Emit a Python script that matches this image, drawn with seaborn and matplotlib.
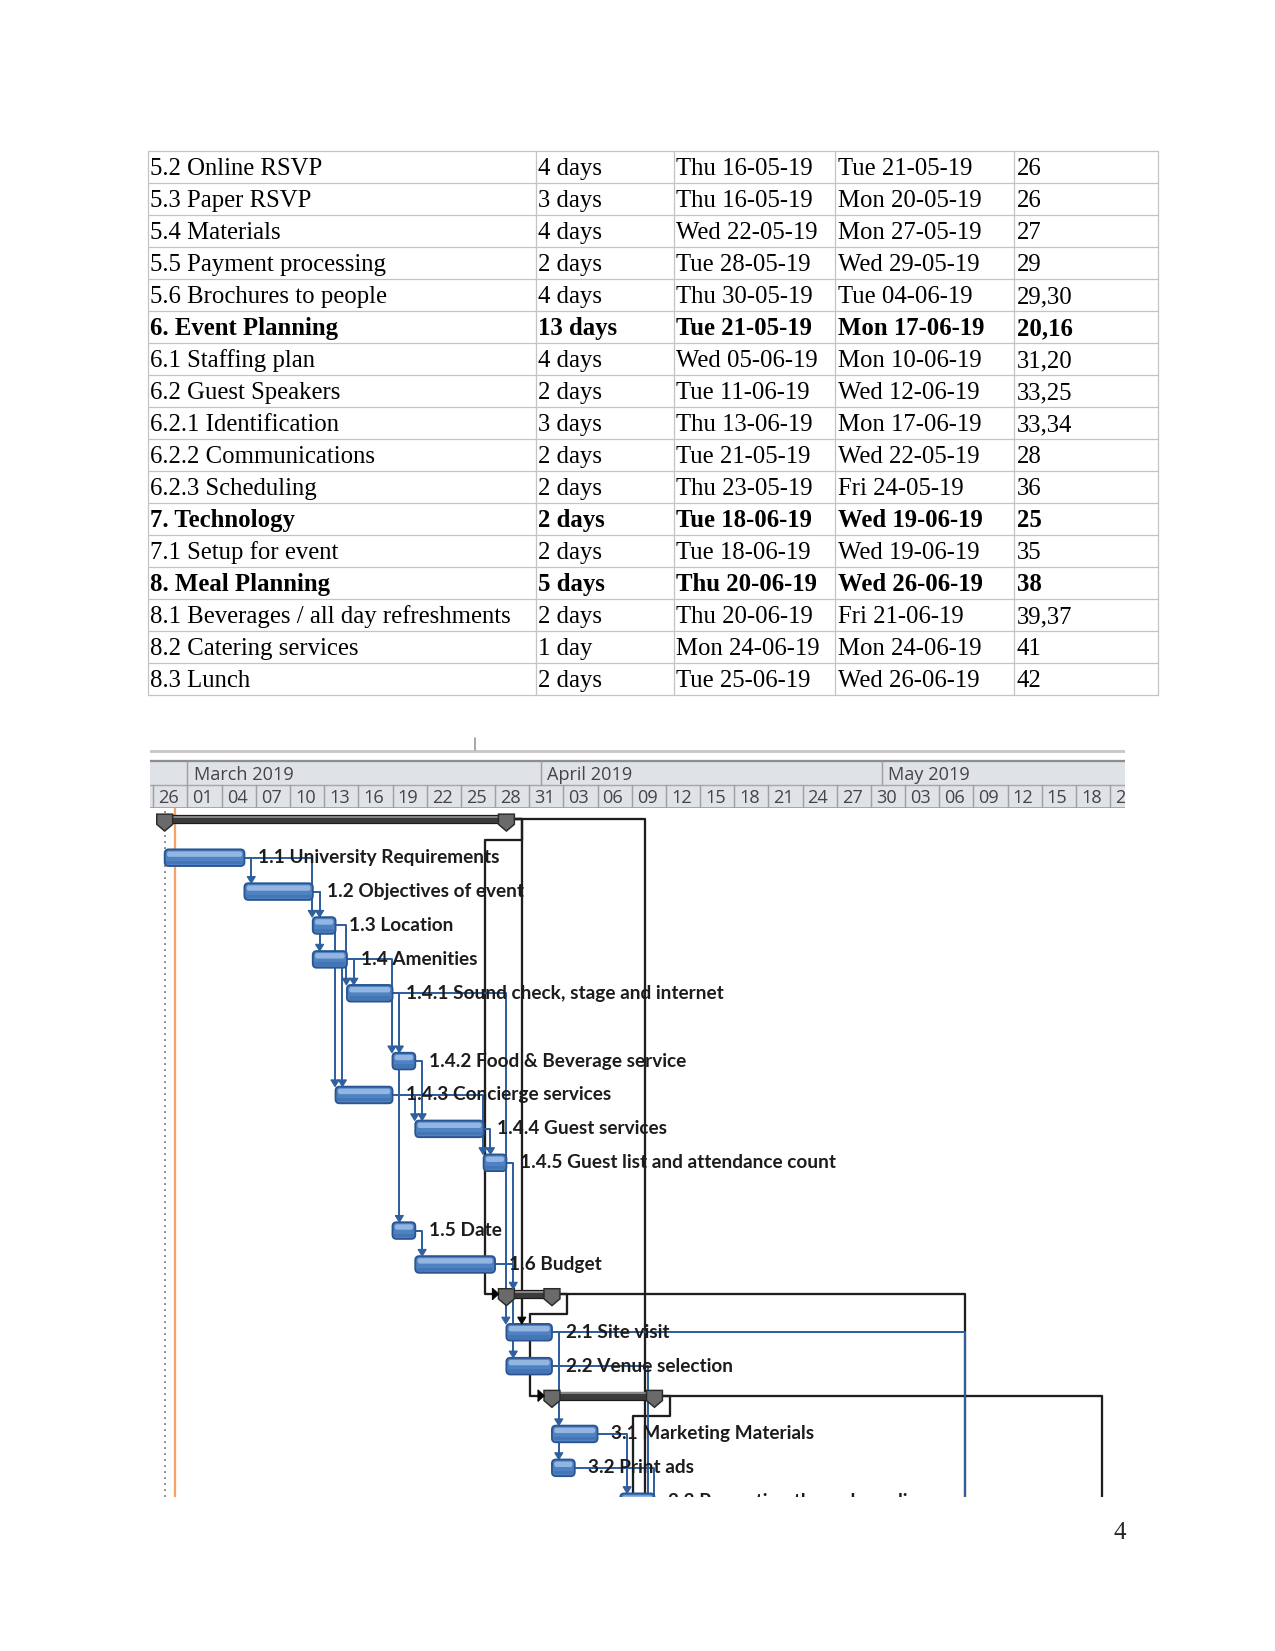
import numpy as np
import pandas as pd
import matplotlib
matplotlib.use("Agg")
import matplotlib.pyplot as plt
import matplotlib.dates as mdates
from matplotlib.patches import FancyBboxPatch, Polygon, Rectangle
import seaborn as sns

# ---------------- table data ----------------
task_names = ["5.2 Online RSVP", "5.3 Paper RSVP", "5.4 Materials", "5.5 Payment processing",
              "5.6 Brochures to people", "6. Event Planning", "6.1 Staffing plan",
              "6.2 Guest Speakers", "6.2.1 Identification", "6.2.2 Communications",
              "6.2.3 Scheduling", "7. Technology", "7.1 Setup for event", "8. Meal Planning",
              "8.1 Beverages / all day refreshments", "8.2 Catering services", "8.3 Lunch"]
durations = ["4 days", "3 days", "4 days", "2 days", "4 days", "13 days", "4 days", "2 days",
             "3 days", "2 days", "2 days", "2 days", "2 days", "5 days", "2 days", "1 day", "2 days"]
start_dates = ["Thu 16-05-19", "Thu 16-05-19", "Wed 22-05-19", "Tue 28-05-19", "Thu 30-05-19",
               "Tue 21-05-19", "Wed 05-06-19", "Tue 11-06-19", "Thu 13-06-19", "Tue 21-05-19",
               "Thu 23-05-19", "Tue 18-06-19", "Tue 18-06-19", "Thu 20-06-19", "Thu 20-06-19",
               "Mon 24-06-19", "Tue 25-06-19"]
finish_dates = ["Tue 21-05-19", "Mon 20-05-19", "Mon 27-05-19", "Wed 29-05-19", "Tue 04-06-19",
                "Mon 17-06-19", "Mon 10-06-19", "Wed 12-06-19", "Mon 17-06-19", "Wed 22-05-19",
                "Fri 24-05-19", "Wed 19-06-19", "Wed 19-06-19", "Wed 26-06-19", "Fri 21-06-19",
                "Mon 24-06-19", "Wed 26-06-19"]
predecessors = ["26", "26", "27", "29", "29,30", "20,16", "31,20", "33,25", "33,34", "28",
                "36", "25", "35", "38", "39,37", "41", "42"]
bold_rows = ["6. Event Planning", "7. Technology", "8. Meal Planning"]

# ---------------- gantt data ----------------
gantt_ids = ["1", "1.1", "1.2", "1.3", "1.4", "1.4.1", "1.4.2", "1.4.3", "1.4.4", "1.4.5",
             "1.5", "1.6", "2", "2.1", "2.2", "3", "3.1", "3.2", "3.3"]
gantt_labels = ["", "1.1 University Requirements", "1.2 Objectives of event", "1.3 Location",
                "1.4 Amenities", "1.4.1 Sound check, stage and internet",
                "1.4.2 Food & Beverage service", "1.4.3 Concierge services", "1.4.4 Guest services",
                "1.4.5 Guest list and attendance count", "1.5 Date", "1.6 Budget", "",
                "2.1 Site visit", "2.2 Venue selection", "", "3.1 Marketing Materials",
                "3.2 Print ads", "3.3 Promotion through media"]
gantt_start = ["2019-02-27", "2019-02-27", "2019-03-06", "2019-03-12", "2019-03-12", "2019-03-15",
               "2019-03-19", "2019-03-14", "2019-03-21", "2019-03-27", "2019-03-19", "2019-03-21",
               "2019-03-29", "2019-03-29", "2019-03-29", "2019-04-02", "2019-04-02", "2019-04-02",
               "2019-04-08"]
gantt_finish = ["2019-03-29", "2019-03-06", "2019-03-12", "2019-03-14", "2019-03-15", "2019-03-19",
                "2019-03-21", "2019-03-19", "2019-03-27", "2019-03-29", "2019-03-21", "2019-03-28",
                "2019-04-02", "2019-04-02", "2019-04-02", "2019-04-11", "2019-04-06", "2019-04-04",
                "2019-04-11"]
gantt_row = [0, 1, 2, 3, 4, 5, 7, 8, 9, 10, 12, 13, 14, 15, 16, 17, 18, 19, 20]
summary_ids = ["1", "2", "3"]

links = [("1.1", "1.2"), ("1.1", "1.3"), ("1.2", "1.3"), ("1.2", "1.4"),
         ("1.3", "1.4.1"), ("1.4", "1.4.1"), ("1.3", "1.4.3"), ("1.4", "1.4.3"),
         ("1.4", "1.4.2"), ("1.4.1", "1.4.2"), ("1.4.3", "1.4.4"), ("1.4.2", "1.4.4"),
         ("1.4.3", "1.4.5"), ("1.4.4", "1.4.5"), ("1.4.1", "1.5"), ("1.5", "1.6"),
         ("1.4.5", "2"), ("1.4.1", "2.1"), ("1.6", "2.2"), ("2.1", "3.1"), ("2.1", "3.2"),
         ("3.1", "3.3"), ("1", "2.1")]
back_links = [("1", "2"), ("2", "3")]
# links to tasks below the visible part: (predecessor, days after 1 March)
off_links = [("1", 40.2), ("2", 68.3), ("3", 80.3), ("2.1", 68.3), ("2.2", 40.4), ("3.2", 41.0)]
off_back_links = [("3", 41.0)]

month_names = ["March 2019", "April 2019", "May 2019"]
month_starts = ["2019-03-01", "2019-04-01", "2019-05-01"]
day_cells = pd.date_range("2019-02-26", "2019-05-21", freq="3D")
project_start = "2019-02-27"
status_date = "2019-02-27 21:00"

# ---------------- figure ----------------
sns.set_theme(style="white")
plt.rcParams["font.family"] = ["Liberation Serif", "DejaVu Sans"]

W, H, DPI = 1275, 1651, 150
fig = plt.figure(figsize=(W / DPI, H / DPI), dpi=DPI)
fig.patch.set_facecolor("white")

page = fig.add_axes([0, 0, 1, 1])
page.set_xlim(0, W)
page.set_ylim(H, 0)
page.axis("off")

# table
col_edges = [148, 536, 674, 835, 1014, 1158]
row_top, row_h = 151, 32
n = len(task_names)
grid = "#c4c4c4"
for k in range(n + 1):
    page.plot([col_edges[0], col_edges[-1]], [row_top + k * row_h] * 2, color=grid, lw=0.6)
for xe in col_edges:
    page.plot([xe, xe], [row_top, row_top + n * row_h], color=grid, lw=0.6)
columns = [task_names, durations, start_dates, finish_dates, predecessors]
for i in range(n):
    weight = "bold" if task_names[i] in bold_rows else "normal"
    for c, col in enumerate(columns):
        page.text(col_edges[c] + 2.5, row_top + i * row_h + 24, col[i], fontsize=11.9,
                  fontweight=weight, family="Liberation Serif", va="baseline", ha="left",
                  color="black")
page.text(1113, 1539, "4", fontsize=12, family="Liberation Serif", va="baseline", ha="left")

# ---------------- gantt ----------------
def day(d):
    return mdates.date2num(pd.Timestamp(d))

base = day("2019-03-01")
xlim = (day("2019-02-25 17:00"), day("2019-05-22 07:30"))
start = {t: day(s) for t, s in zip(gantt_ids, gantt_start)}
finish = {t: day(f) for t, f in zip(gantt_ids, gantt_finish)}
row = dict(zip(gantt_ids, gantt_row))

gx0, gx1 = 150 / W, 975 / W
body = fig.add_axes([gx0, 1 - 1497 / H, gx1, (1497 - 806.85) / H])
body.set_xlim(*xlim)
body.set_ylim(19.86, -0.5)
body.axis("off")

blue_line = "#2f5f9e"
black_line = "#1e1e1e"
BAR_H = 0.245
SUM_OFF, SUM_H = 0.13, 0.115
SQUEEZE = 11.39 / 33.9   # day width / slot height in pixels, keeps corners round


def bar_y(t):
    return row[t] - SUM_OFF if t in summary_ids else row[t]


def top_y(t):
    return row[t] - SUM_OFF - SUM_H - 0.03 if t in summary_ids else row[t] - BAR_H


def end_x(t):
    return finish[t] + 0.7 if t in summary_ids else finish[t]


def down_arrow(x, ytip, color):
    body.add_patch(Polygon([(x - 0.36, ytip - 0.2), (x + 0.36, ytip - 0.2), (x, ytip)],
                           closed=True, fc=color, ec=color, lw=0.5, zorder=3.6))


def right_arrow(xtip, y):
    body.add_patch(Polygon([(xtip - 0.55, y - 0.17), (xtip - 0.55, y + 0.17), (xtip, y)],
                           closed=True, fc="black", ec="black", lw=0.5, zorder=3.6))


# project start (dotted) and status date (orange)
body.axvline(day(project_start), color="#8a8a8a", lw=0.9, ls=(0, (1, 2.2)), zorder=0.5)
body.axvline(day(status_date), color="#f4a36a", lw=1.1, zorder=0.6)

# forward links
incoming = {}
for p, s in links:
    incoming.setdefault(s, []).append(p)
for p, s in links:
    k, cnt = incoming[s].index(p), len(incoming[s])
    xv = start[s] + 0.6 - 0.65 * (cnt - 1 - k)
    col, lw, z = blue_line, 0.95, 2
    if p in summary_ids:
        xv = max(xv, finish[p] + 1.35)
        col, lw, z = black_line, 1.1, 1.5
    y0, y1 = bar_y(p), top_y(s) - 0.18
    body.plot([end_x(p), xv, xv], [y0, y0, y1], color=col, lw=lw, zorder=z,
              solid_joinstyle="round")
    down_arrow(xv, top_y(s), col if p not in summary_ids else "black")

# summary back-routed links
for p, s in back_links:
    xe = finish[p] + 1.35
    yd = row[p] + 0.47
    xl = start[s] - 1.9
    body.plot([end_x(p), xe, xe, xl, xl, start[s] - 1.1],
              [bar_y(p), bar_y(p), yd, yd, bar_y(s), bar_y(s)],
              color=black_line, lw=1.1, zorder=1.5)
    right_arrow(start[s] - 0.68, bar_y(s))
for p, s_days in off_back_links:
    xe = finish[p] + 1.35
    yd = row[p] + 0.47
    xl = base + s_days - 1.9
    body.plot([end_x(p), xe, xe, xl, xl], [bar_y(p), bar_y(p), yd, yd, 21],
              color=black_line, lw=1.1, zorder=1.5)

# links to tasks below the visible area
for p, xd in off_links:
    col, lw, z = (black_line, 1.1, 1.5) if p in summary_ids else (blue_line, 0.95, 2)
    body.plot([end_x(p), base + xd, base + xd], [bar_y(p), bar_y(p), 21],
              color=col, lw=lw, zorder=z)

# bars
for t, lab in zip(gantt_ids, gantt_labels):
    xs, xf, r = start[t], finish[t], row[t]
    if t in summary_ids:
        yb = r - SUM_OFF
        body.add_patch(Rectangle((xs, yb - SUM_H), xf - xs, 2 * SUM_H, fc="#3b3b3b",
                                 ec="#1c1c1c", lw=0.6, zorder=3))
        body.add_patch(Rectangle((xs, yb - SUM_H + 0.02), xf - xs, 0.06, fc="#858585",
                                 ec="none", zorder=3.1))
        top = yb - SUM_H - 0.04
        for xc in (xs, xf):
            body.add_patch(Polygon([(xc - 0.7, top), (xc + 0.7, top), (xc + 0.7, top + 0.3),
                                    (xc, top + 0.5), (xc - 0.7, top + 0.3)], closed=True,
                                   fc="#6a6a6a", ec="#2a2a2a", lw=0.7, zorder=3.2))
    else:
        body.add_patch(FancyBboxPatch((xs, r - BAR_H), xf - xs, 2 * BAR_H,
                                      boxstyle="round,pad=0,rounding_size=0.35",
                                      mutation_aspect=SQUEEZE, fc="#4f82c2", ec="#2a5590",
                                      lw=0.9, zorder=3))
        body.add_patch(FancyBboxPatch((xs + 0.2, r - BAR_H + 0.06), xf - xs - 0.4, 0.16,
                                      boxstyle="round,pad=0,rounding_size=0.2",
                                      mutation_aspect=SQUEEZE, fc="#a4c2ea", ec="none",
                                      alpha=0.8, zorder=3.1))
        body.add_patch(Rectangle((xs + 0.15, r + 0.09), xf - xs - 0.3, 0.1, fc="#3a6aa8",
                                 ec="none", alpha=0.5, zorder=3.1))
    if lab:
        body.annotate(lab, xy=(xf, r), xytext=(6.6, 0), textcoords="offset points",
                      va="center", ha="left", fontsize=9.1, fontweight="bold",
                      family=["Lato", "DejaVu Sans"], color="#1c1c1c", zorder=4,
                      annotation_clip=False, clip_on=True)

# ---------------- timescale header ----------------
head = fig.add_axes([gx0, 1 - 808 / H, gx1, 71 / H])
head.set_xlim(*xlim)
head.set_ylim(71, 0)
head.axis("off")
head.add_patch(Rectangle((xlim[0], 24), xlim[1] - xlim[0], 47, fc="#dfe2e7", ec="none"))
head.plot(xlim, [13.7, 13.7], color="#c8c8c8", lw=1.4)
head.plot(xlim, [24, 24], color="#8e8e8e", lw=1.1)
head.plot(xlim, [48, 48], color="#a8a8a8", lw=0.7)
head.plot(xlim, [70.5, 70.5], color="#9c9c9c", lw=0.8)
head.plot([base + 25.2] * 2, [1, 13], color="#9a9a9a", lw=0.8)
hfont = dict(family=["Open Sans", "DejaVu Sans"], color="#444444", fontsize=8.7)
for name, m in zip(month_names, month_starts):
    head.plot([day(m)] * 2, [24, 48], color="#a0a0a0", lw=0.7)
    head.annotate(name, xy=(day(m), 43), xytext=(2.9, 0), textcoords="offset points",
                  va="baseline", ha="left", annotation_clip=False, clip_on=True, **hfont)
for d in day_cells:
    xd = mdates.date2num(d)
    head.plot([xd] * 2, [48, 71], color="#a0a0a0", lw=0.7)
    head.annotate(d.strftime("%d"), xy=(xd, 66), xytext=(2.4, 0), textcoords="offset points",
                  va="baseline", ha="left", annotation_clip=False, clip_on=True, **hfont)

fig.savefig("out.png", dpi=DPI, facecolor="white")
